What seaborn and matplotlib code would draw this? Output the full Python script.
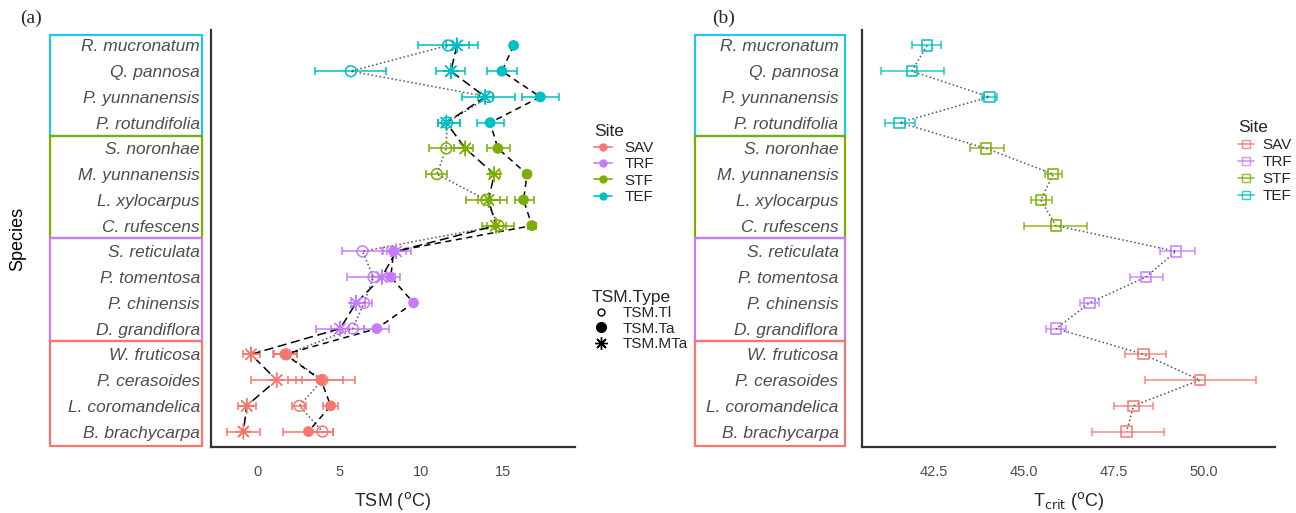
import matplotlib
matplotlib.use('Agg')
import matplotlib.pyplot as plt
import matplotlib.transforms as mtransforms
from matplotlib.patches import Rectangle
from matplotlib.lines import Line2D
import numpy as np
import pandas as pd
import seaborn as sns

sns.set_style('white')
plt.rcParams['font.family'] = ['Liberation Sans', 'DejaVu Sans']

## data
species = ['R. mucronatum', 'Q. pannosa', 'P. yunnanensis', 'P. rotundifolia',
           'S. noronhae', 'M. yunnanensis', 'L. xylocarpus', 'C. rufescens',
           'S. reticulata', 'P. tomentosa', 'P. chinensis', 'D. grandiflora',
           'W. fruticosa', 'P. cerasoides', 'L. coromandelica', 'B. brachycarpa']
site = ['TEF'] * 4 + ['STF'] * 4 + ['TRF'] * 4 + ['SAV'] * 4

tsm_ti = [11.64, 5.71, 14.12, 11.58, 11.54, 10.96, 13.98, 14.73,
          6.42, 7.09, 6.52, 5.83, 1.75, 3.97, 2.57, 3.98]
tsm_ti_lo = [9.84, 3.53, 12.49, 11.06, 10.50, 10.30, 12.74, 13.71,
             5.16, 5.46, 6.00, 3.57, 1.00, 2.35, 2.10, 3.30]
tsm_ti_hi = [13.45, 7.87, 15.75, 12.35, 12.60, 11.60, 15.24, 15.65,
             7.66, 8.40, 7.00, 6.50, 2.40, 5.97, 3.00, 4.65]

tsm_ta = [15.65, 14.94, 17.28, 14.22, 14.69, 16.47, 16.26, 16.77,
          8.32, 8.15, 9.54, 7.30, 1.69, 3.89, 4.48, 3.12]
tsm_ta_lo = [15.50, 14.02, 16.16, 13.41, 14.00, 16.30, 15.75, 16.50,
             7.60, 7.60, 9.40, 6.50, 0.98, 1.90, 4.00, 1.59]
tsm_ta_hi = [15.80, 15.86, 18.44, 15.08, 15.40, 16.60, 16.87, 17.00,
             9.40, 8.72, 9.70, 8.07, 2.45, 5.26, 4.90, 4.60]

tsm_mta = [12.19, 11.82, 13.92, 11.54, 12.70, 14.47, 14.12, 14.57,
           8.48, 7.60, 6.03, 5.06, -0.39, 1.18, -0.65, -0.85]
tsm_mta_lo = [11.50, 10.92, 13.50, 11.06, 12.00, 14.20, 13.50, 14.00,
              7.90, 7.00, 5.70, 4.50, -0.89, -0.39, -1.20, -1.83]
tsm_mta_hi = [12.90, 12.71, 14.40, 12.35, 13.20, 14.80, 14.80, 15.20,
              9.10, 8.20, 6.60, 5.60, 0.16, 2.75, -0.10, 0.16]

tcrit = [42.32, 41.90, 44.05, 41.56, 43.96, 45.82, 45.47, 45.89,
         49.22, 48.38, 46.82, 45.90, 48.32, 49.88, 48.04, 47.85]
tcrit_lo = [41.90, 41.04, 43.84, 41.16, 43.52, 45.60, 45.20, 45.01,
            48.77, 47.93, 46.56, 45.61, 47.81, 48.36, 47.50, 46.88]
tcrit_hi = [42.70, 42.78, 44.25, 41.99, 44.44, 46.05, 45.78, 46.75,
            49.75, 48.86, 47.09, 46.17, 48.93, 51.43, 48.59, 48.88]

site_order = ['SAV', 'TRF', 'STF', 'TEF']
site_pal = {'SAV': '#F8766D', 'TRF': '#C77CFF', 'STF': '#7CAE00', 'TEF': '#00BFC4'}
box_pal = {'SAV': '#F8766D', 'TRF': '#C77CFF', 'STF': '#7CAE00', 'TEF': '#1EC6F2'}

df = pd.DataFrame({'Species': species, 'Site': site,
                   'TSM.Tl': tsm_ti, 'TSM.Ta': tsm_ta, 'TSM.MTa': tsm_mta,
                   'Tcrit': tcrit})

W, H = 1296, 513
fig = plt.figure(figsize=(W / 100, H / 100), dpi=100)
ax1 = fig.add_axes([211 / W, 1 - 447 / H, (575 - 211) / W, (447 - 30) / H])
ax2 = fig.add_axes([862 / W, 1 - 447 / H, (1275 - 862) / W, (447 - 30) / H])

grey = '#4D4D4D'

## (a) TSM lines
ax1.plot(df['TSM.Tl'], df['Species'], ls=':', color='#555555', lw=1.1, zorder=2)
ax1.plot(df['TSM.Ta'], df['Species'], ls=(0, (4, 3)), color='black', lw=1.1, zorder=2)
ax1.plot(df['TSM.MTa'], df['Species'], ls=(0, (6, 3)), color='black', lw=1.1, zorder=2)

# error bars
for vals, lo, hi in [(tsm_ti, tsm_ti_lo, tsm_ti_hi),
                     (tsm_ta, tsm_ta_lo, tsm_ta_hi),
                     (tsm_mta, tsm_mta_lo, tsm_mta_hi)]:
    for i, sp in enumerate(species):
        ax1.errorbar(vals[i], sp, xerr=[[vals[i] - lo[i]], [hi[i] - vals[i]]],
                     fmt='none', ecolor=site_pal[site[i]], elinewidth=1.1,
                     capsize=3, capthick=1.1, zorder=1)

# points
sns.scatterplot(data=df, x='TSM.Tl', y='Species', hue='Site', palette=site_pal,
                marker='o', s=60, linewidth=1.1, legend=False, ax=ax1, zorder=3)
coll = ax1.collections[-1]
coll.set_edgecolors(coll.get_facecolors())
coll.set_facecolors('none')
sns.scatterplot(data=df, x='TSM.Ta', y='Species', hue='Site', palette=site_pal,
                marker='o', s=60, linewidth=0, legend=False, ax=ax1, zorder=3)
sns.scatterplot(data=df, x='TSM.MTa', y='Species', hue='Site', palette=site_pal,
                marker=(8, 2, 0), s=110, linewidth=1.0, legend=False, ax=ax1, zorder=3)

## (b) Tcrit
ax2.plot(df['Tcrit'], df['Species'], ls=':', color='#555555', lw=1.1, zorder=2)
for i, sp in enumerate(species):
    ax2.errorbar(tcrit[i], sp, xerr=[[tcrit[i] - tcrit_lo[i]], [tcrit_hi[i] - tcrit[i]]],
                 fmt='none', ecolor=site_pal[site[i]], elinewidth=1.1, alpha=0.85,
                 capsize=3, capthick=1.1, zorder=1)
sns.scatterplot(data=df, x='Tcrit', y='Species', hue='Site', palette=site_pal,
                marker='s', s=55, linewidth=1.1, legend=False, ax=ax2, zorder=3)
coll = ax2.collections[-1]
coll.set_edgecolors(coll.get_facecolors())
coll.set_facecolors('none')

## axes styling
n = len(species)
for ax, xl, xt, xlab in [(ax1, (-2.83, 19.4), [0, 5, 10, 15], 'TSM ($^{\\mathrm{o}}$C)'),
                         (ax2, (40.52, 51.96), [42.5, 45.0, 47.5, 50.0],
                          'T$_{\\mathrm{crit}}$ ($^{\\mathrm{o}}$C)')]:
    ax.set_xlim(*xl)
    ax.set_ylim(n - 0.4, -0.6)
    ax.set_xticks(xt)
    if ax is ax2:
        ax.set_xticklabels(['%.1f' % v for v in xt])
    ax.set_xlabel(xlab, fontsize=13, labelpad=8)
    ax.set_ylabel('')
    for s in ['top', 'right']:
        ax.spines[s].set_visible(False)
    for s in ['left', 'bottom']:
        ax.spines[s].set_color('#333333')
        ax.spines[s].set_linewidth(1.6)
    ax.tick_params(axis='both', length=5, width=1.1, color='#333333',
                   labelcolor=grey, direction='out')
    ax.tick_params(axis='x', labelsize=10.5, pad=8)
    ax.tick_params(axis='y', labelsize=12.5, pad=3)
    for lab in ax.get_yticklabels():
        lab.set_fontstyle('italic')
    ax.grid(False)

ax2.tick_params(axis='y', length=11, pad=6)

ax1.set_ylabel('Species', fontsize=13, color='black')
ax1.yaxis.set_label_coords(-0.508, 0.5)

## coloured boxes around species groups
box_x = {ax1: (50, 202), ax2: (695, 845)}
for ax in [ax1, ax2]:
    trans = mtransforms.blended_transform_factory(fig.transFigure, ax.transData)
    x0, x1 = box_x[ax]
    for k, st in enumerate(['TEF', 'STF', 'TRF', 'SAV']):
        top = 4 * k - 0.42 if k == 0 else 4 * k - 0.5
        bot = 4 * k + 3.5 if k < 3 else n - 0.42
        rect = Rectangle((x0 / W, top), (x1 - x0) / W, bot - top, transform=trans,
                         fill=False, edgecolor=box_pal[st], lw=1.6, clip_on=False)
        fig.add_artist(rect)

## legends
site_a = [Line2D([], [], color=site_pal[s], marker='o', ms=5, lw=1.2, label=s)
          for s in site_order]
fig.legend(handles=site_a, title='Site', loc='upper left',
           bbox_to_anchor=(580 / W, 1 - 110 / H), frameon=False,
           fontsize=11, title_fontsize=12.5, handlelength=1.2,
           labelspacing=0.15, alignment='left', handletextpad=0.8)
type_h = [Line2D([], [], color='black', marker='o', mfc='none', ms=5, lw=0, label='TSM.Tl'),
          Line2D([], [], color='black', marker='o', ms=7, lw=0, label='TSM.Ta'),
          Line2D([], [], color='black', marker=(8, 2, 0), ms=9, lw=0, label='TSM.MTa')]
fig.legend(handles=type_h, title='TSM.Type', loc='upper left',
           bbox_to_anchor=(578 / W, 1 - 276 / H), frameon=False,
           fontsize=11, title_fontsize=12.5, handlelength=1.2,
           labelspacing=0.1, alignment='left', handletextpad=0.8)
site_b = [Line2D([], [], color=site_pal[s], marker='s', mfc='none', ms=6, lw=1.2,
                 alpha=0.8, label=s) for s in site_order]
fig.legend(handles=site_b, title='Site', loc='upper left',
           bbox_to_anchor=(1226 / W, 1 - 108 / H), frameon=False,
           fontsize=11, title_fontsize=12.5, handlelength=1.0,
           labelspacing=0.2, alignment='left', handletextpad=0.6,
           borderpad=0.3)

fig.text(20 / W, 1 - 18 / H, '(a)', family='Liberation Serif', fontsize=14,
         va='center', ha='left')
fig.text(712 / W, 1 - 18 / H, '(b)', family='Liberation Serif', fontsize=14,
         va='center', ha='left')

fig.savefig('out.png', dpi=100)
